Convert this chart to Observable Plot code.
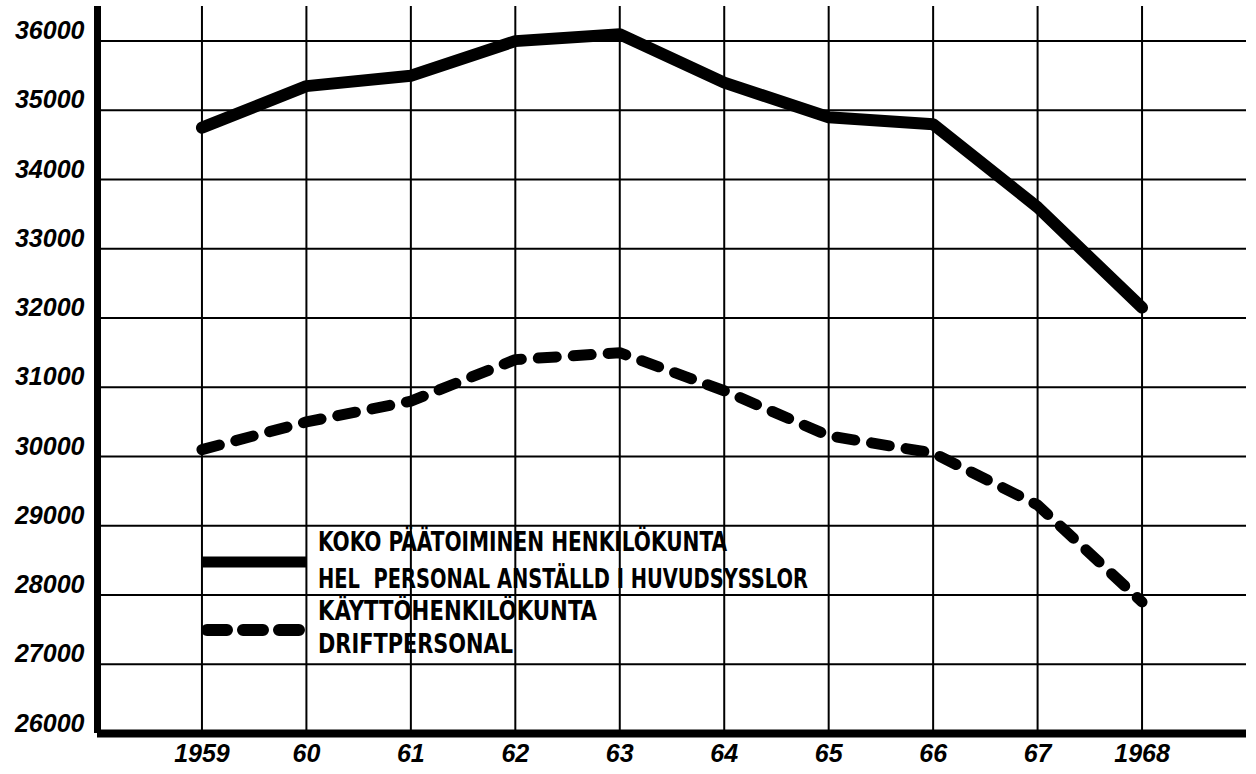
<!DOCTYPE html>
<html>
<head>
<meta charset="utf-8">
<script src="https://cdn.jsdelivr.net/npm/d3@7"></script>
<script src="https://cdn.jsdelivr.net/npm/@observablehq/plot@0.6"></script>
<style>
  html, body { margin: 0; padding: 0; background: #fff; }
  #chart { width: 1256px; height: 774px; }
</style>
</head>
<body>
<div id="chart"></div>
<script>
// ---- data ----
const years = [1959, 1960, 1961, 1962, 1963, 1964, 1965, 1966, 1967, 1968];
const yearLabels = ["1959", "60", "61", "62", "63", "64", "65", "66", "67", "1968"];
const totalStaff = [34750, 35350, 35500, 36000, 36100, 35400, 34900, 34800, 33600, 32150];
const operatingStaff = [30100, 30500, 30800, 31400, 31500, 30950, 30300, 30050, 29300, 27900];
const yTicks = [26000, 27000, 28000, 29000, 30000, 31000, 32000, 33000, 34000, 35000, 36000];
const legendLines1 = ["KOKO PÄÄTOIMINEN HENKILÖKUNTA", "HEL  PERSONAL ANSTÄLLD I HUVUDSYSSLOR"];
const legendLines2 = ["KÄYTTÖHENKILÖKUNTA", "DRIFTPERSONAL"];

const solidData = years.map((y, i) => ({year: y, value: totalStaff[i]}));
const dashData = years.map((y, i) => ({year: y, value: operatingStaff[i]}));
const labelOf = new Map(years.map((y, i) => [y, yearLabels[i]]));

const tickFont = {fontSize: 25, fontWeight: "bold", fontStyle: "italic"};

const svg = Plot.plot({
  width: 1256,
  height: 774,
  marginLeft: 97,
  marginRight: 10,
  marginTop: 6,
  marginBottom: 41,
  style: {fontFamily: "'Liberation Sans', sans-serif", color: "#000", background: "#fff"},
  x: {domain: [1958, 1969], label: null},
  y: {domain: [26000, 36500], label: null},
  marks: [
    Plot.ruleY(yTicks, {stroke: "#000", strokeWidth: 2}),
    Plot.ruleX(years, {stroke: "#000", strokeWidth: 2}),
    Plot.ruleX([1958], {stroke: "#000", strokeWidth: 7}),
    Plot.ruleY([26000], {stroke: "#000", strokeWidth: 8}),
    Plot.axisY({ticks: yTicks, tickSize: 0, tickPadding: 13, dy: -10, label: null, tickFormat: d => String(d), ...tickFont}),
    Plot.axisX({ticks: years, tickSize: 0, tickPadding: 11, label: null, tickFormat: d => labelOf.get(d), ...tickFont}),
    Plot.line(solidData, {x: "year", y: "value", stroke: "#000", strokeWidth: 12, strokeLinejoin: "round"}),
    Plot.line(dashData, {x: "year", y: "value", stroke: "#000", strokeWidth: 11, strokeLinejoin: "round", strokeLinecap: "round", strokeDasharray: "18,17"})
  ]
});

// legend drawn into the plot's svg
const g = d3.select(svg).append("g").attr("text-anchor", "start");
g.append("line").attr("x1", 201).attr("x2", 306).attr("y1", 562).attr("y2", 562)
  .attr("stroke", "#000").attr("stroke-width", 11);
g.append("line").attr("x1", 207).attr("x2", 300).attr("y1", 630).attr("y2", 630)
  .attr("stroke", "#000").attr("stroke-width", 12).attr("stroke-linecap", "round")
  .attr("stroke-dasharray", "20,16");
const legendText = [
  {t: legendLines1[0], y: 551, w: 409},
  {t: legendLines1[1], y: 588, w: 490},
  {t: legendLines2[0], y: 620, w: 279},
  {t: legendLines2[1], y: 653, w: 195}
];
g.selectAll("text.leg").data(legendText).join("text")
  .attr("class", "leg")
  .attr("x", 318).attr("y", d => d.y)
  .attr("text-anchor", "start")
  .attr("textLength", d => d.w).attr("lengthAdjust", "spacingAndGlyphs")
  .attr("font-family", "'Liberation Sans Narrow', 'DejaVu Sans Condensed', 'Liberation Sans', sans-serif")
  .attr("font-weight", "bold").attr("font-size", 26)
  .attr("fill", "#000")
  .style("white-space", "pre")
  .text(d => d.t);

document.getElementById("chart").appendChild(svg);
</script>
</body>
</html>
